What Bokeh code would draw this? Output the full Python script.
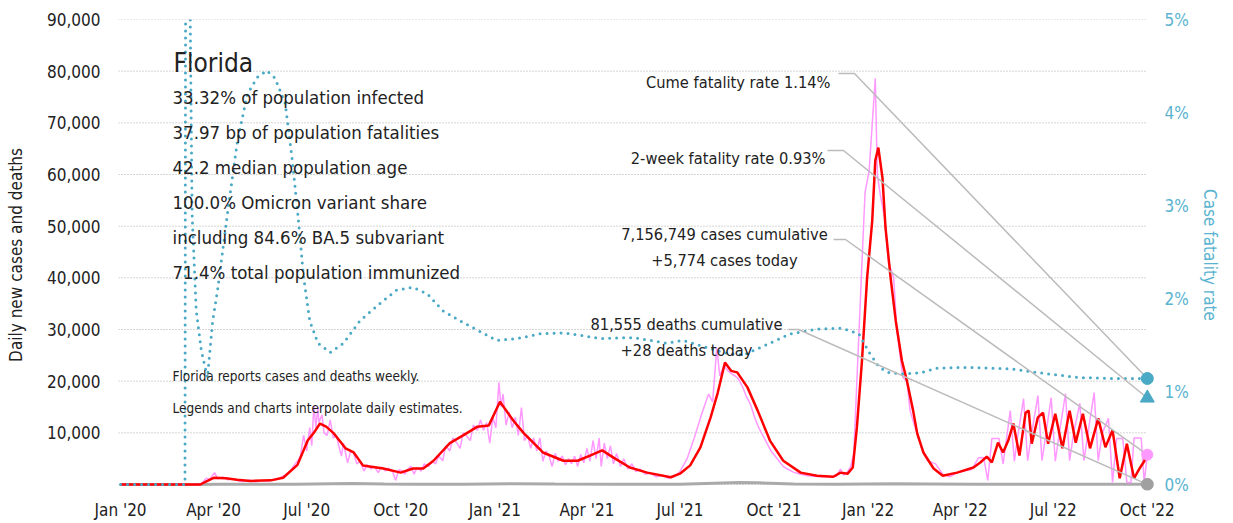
import pandas as pd
from bokeh.plotting import figure
from bokeh.models import (Range1d, LinearAxis, FixedTicker, DatetimeTickFormatter,
                          NumeralTickFormatter, PrintfTickFormatter, Label)
from bokeh.embed import file_html
from bokeh.resources import INLINE

# ---------------- data ----------------
state_name = "Florida"
stats_lines = [
    "33.32% of population infected",
    "37.97 bp of population fatalities",
    "42.2 median population age",
    "100.0% Omicron variant share",
    "including 84.6% BA.5 subvariant",
    "71.4% total population immunized",
]
notes = ["Florida reports cases and deaths weekly.",
         "Legends and charts interpolate daily estimates."]

cume_cfr = 1.14
two_week_cfr = 0.93
cases_cum = 7156749
cases_today = 5774
deaths_cum = 81555
deaths_today = 28

x_tick_dates = ["2020-01-01", "2020-04-01", "2020-07-01", "2020-10-01",
                "2021-01-01", "2021-04-01", "2021-07-01", "2021-10-01",
                "2022-01-01", "2022-04-01", "2022-07-01", "2022-10-01"]
y_ticks = [10000, 20000, 30000, 40000, 50000, 60000, 70000, 80000, 90000]
cfr_ticks = [0, 1, 2, 3, 4, 5]

# 7-day average of new cases
avg_dates = ["2020-01-01", "2020-03-19", "2020-03-25", "2020-04-01", "2020-04-13", "2020-04-24",
             "2020-05-07", "2020-05-27", "2020-06-08", "2020-06-22", "2020-07-02", "2020-07-08",
             "2020-07-14", "2020-07-20", "2020-07-27", "2020-08-08", "2020-08-16", "2020-08-25",
             "2020-09-14", "2020-10-01", "2020-10-13", "2020-10-23", "2020-11-02", "2020-11-18",
             "2020-12-01", "2020-12-15", "2020-12-26", "2021-01-06", "2021-01-19", "2021-01-29",
             "2021-02-08", "2021-02-17", "2021-03-09", "2021-03-23", "2021-04-04", "2021-04-16",
             "2021-04-27", "2021-05-13", "2021-05-30", "2021-06-22", "2021-07-01", "2021-07-11",
             "2021-07-21", "2021-07-31", "2021-08-07", "2021-08-14", "2021-08-20", "2021-08-26",
             "2021-09-05", "2021-09-15", "2021-09-27", "2021-10-10", "2021-10-27", "2021-11-12",
             "2021-11-28", "2021-12-05", "2021-12-12", "2021-12-17", "2021-12-21", "2021-12-26",
             "2021-12-31", "2022-01-05", "2022-01-08", "2022-01-11", "2022-01-15", "2022-01-18",
             "2022-01-23", "2022-01-28", "2022-02-03", "2022-02-08", "2022-02-14", "2022-02-18",
             "2022-02-24", "2022-03-06", "2022-03-15", "2022-03-29", "2022-04-14", "2022-04-21",
             "2022-04-27", "2022-05-02", "2022-05-08", "2022-05-13", "2022-05-18", "2022-05-23",
             "2022-05-29", "2022-06-04", "2022-06-07", "2022-06-10", "2022-06-16", "2022-06-21",
             "2022-06-26", "2022-07-03", "2022-07-10", "2022-07-17", "2022-07-23", "2022-07-30",
             "2022-08-06", "2022-08-14", "2022-08-21", "2022-08-28", "2022-09-04", "2022-09-11",
             "2022-09-18", "2022-09-24", "2022-09-28", "2022-10-01"]
avg_values = [0, 0, 600, 1300, 1200, 900,
              700, 800, 1300, 3800, 8500, 10000,
              11800, 11200, 10000, 7000, 6200, 3700,
              3100, 2300, 3100, 3100, 4600, 8000,
              9500, 11200, 11400, 16000, 12400, 10000,
              8000, 6200, 4600, 4600, 5600, 6600,
              5200, 3300, 2300, 1400, 2100, 3700,
              7200, 13000, 17800, 23600, 22000, 21700,
              18800, 14300, 8500, 4600, 2300, 1700,
              1500, 2300, 2100, 3300, 11000, 24000,
              40000, 51000, 62700, 65200, 59400, 49700,
              40000, 31700, 24000, 20000, 14300, 9900,
              6200, 3100, 1700, 2300, 3300, 4300,
              5400, 4300, 8100, 6200, 8500, 11800,
              5600, 13900, 14300, 7900, 13000, 13900,
              7900, 13700, 7000, 14300, 8100, 13700,
              7000, 12800, 7200, 10500, 1200, 7900,
              1200, 3300, 4500, 6000]

# daily (interpolated weekly) new cases
daily_dates = ["2020-01-01", "2020-03-19", "2020-03-25", "2020-03-28", "2020-04-02", "2020-04-05",
               "2020-04-10", "2020-04-15", "2020-04-20", "2020-04-25", "2020-05-01", "2020-05-06",
               "2020-05-12", "2020-05-18", "2020-05-24", "2020-05-30", "2020-06-05", "2020-06-10",
               "2020-06-15", "2020-06-19", "2020-06-22", "2020-06-25", "2020-06-28", "2020-07-01",
               "2020-07-04", "2020-07-06", "2020-07-08", "2020-07-10", "2020-07-12", "2020-07-13",
               "2020-07-16", "2020-07-18", "2020-07-21", "2020-07-24", "2020-07-27", "2020-07-30",
               "2020-08-02", "2020-08-04", "2020-08-06", "2020-08-10", "2020-08-13", "2020-08-16",
               "2020-08-19", "2020-08-22", "2020-08-26", "2020-08-29", "2020-09-02", "2020-09-05",
               "2020-09-09", "2020-09-12", "2020-09-16", "2020-09-19", "2020-09-23", "2020-09-26",
               "2020-09-29", "2020-10-02", "2020-10-05", "2020-10-08", "2020-10-11", "2020-10-14",
               "2020-10-17", "2020-10-21", "2020-10-24", "2020-10-28", "2020-11-01", "2020-11-04",
               "2020-11-07", "2020-11-11", "2020-11-14", "2020-11-18", "2020-11-21", "2020-11-25",
               "2020-11-28", "2020-12-01", "2020-12-04", "2020-12-08", "2020-12-11", "2020-12-15",
               "2020-12-18", "2020-12-21", "2020-12-24", "2020-12-27", "2020-12-30", "2021-01-02",
               "2021-01-05", "2021-01-07", "2021-01-09", "2021-01-12", "2021-01-15", "2021-01-18",
               "2021-01-21", "2021-01-24", "2021-01-27", "2021-01-30", "2021-02-02", "2021-02-05",
               "2021-02-08", "2021-02-11", "2021-02-14", "2021-02-17", "2021-02-20", "2021-02-23",
               "2021-02-26", "2021-03-01", "2021-03-04", "2021-03-08", "2021-03-11", "2021-03-14",
               "2021-03-17", "2021-03-20", "2021-03-23", "2021-03-26", "2021-03-29", "2021-04-01",
               "2021-04-04", "2021-04-07", "2021-04-10", "2021-04-13", "2021-04-15", "2021-04-18",
               "2021-04-21", "2021-04-24", "2021-04-27", "2021-04-30", "2021-05-04", "2021-05-07",
               "2021-05-11", "2021-05-15", "2021-05-19", "2021-05-23", "2021-05-28", "2021-06-02",
               "2021-06-08", "2021-06-14", "2021-06-20", "2021-06-26", "2021-07-01", "2021-07-08",
               "2021-07-15", "2021-07-22", "2021-07-29", "2021-08-02", "2021-08-06", "2021-08-09",
               "2021-08-13", "2021-08-17", "2021-08-20", "2021-08-24", "2021-08-27", "2021-08-31",
               "2021-09-04", "2021-09-08", "2021-09-12", "2021-09-16", "2021-09-20", "2021-09-24",
               "2021-09-28", "2021-10-02", "2021-10-06", "2021-10-10", "2021-10-14", "2021-10-20",
               "2021-10-27", "2021-11-03", "2021-11-10", "2021-11-17", "2021-11-24", "2021-12-01",
               "2021-12-05", "2021-12-08", "2021-12-12", "2021-12-15", "2021-12-18", "2021-12-21",
               "2021-12-26", "2021-12-29", "2022-01-02", "2022-01-08", "2022-01-10", "2022-01-13",
               "2022-01-17", "2022-01-21", "2022-01-26", "2022-01-29", "2022-02-04", "2022-02-08",
               "2022-02-11", "2022-02-16", "2022-02-21", "2022-02-28", "2022-03-08", "2022-03-15",
               "2022-03-22", "2022-03-29", "2022-04-05", "2022-04-12", "2022-04-15", "2022-04-19",
               "2022-04-24", "2022-04-28", "2022-05-02", "2022-05-09", "2022-05-13", "2022-05-20",
               "2022-05-24", "2022-05-27", "2022-06-02", "2022-06-06", "2022-06-10", "2022-06-16",
               "2022-06-20", "2022-06-24", "2022-06-29", "2022-07-03", "2022-07-07", "2022-07-13",
               "2022-07-17", "2022-07-21", "2022-07-27", "2022-07-31", "2022-08-04", "2022-08-10",
               "2022-08-14", "2022-08-18", "2022-08-24", "2022-08-28", "2022-09-01", "2022-09-07",
               "2022-09-11", "2022-09-15", "2022-09-18", "2022-09-25", "2022-09-28", "2022-10-01"]
daily_values = [0, 0, 1200, 1000, 2300, 1100,
                1400, 900, 1100, 700, 600, 900,
                500, 800, 700, 900, 1300, 1800,
                2600, 3800, 4500, 5600, 9500, 6500,
                11000, 7500, 15300, 11000, 15000, 12000,
                13500, 10000, 9500, 12500, 9000, 9500,
                7000, 5500, 8000, 4200, 6500, 6000,
                4000, 4500, 2600, 3800, 3000, 3500,
                2300, 3400, 2600, 3200, 2500, 800,
                2800, 2700, 2000, 3000, 3500, 2000,
                3300, 2600, 4000, 3500, 4500, 4000,
                5500, 4600, 7500, 6500, 9000, 8000,
                7000, 10000, 9500, 8500, 11500, 10500,
                12500, 10500, 12000, 8000, 13000, 11000,
                19800, 15000, 17500, 11500, 14000, 11000,
                13000, 9500, 14900, 8500, 9500, 7000,
                9000, 6500, 9000, 4500, 6500, 5500,
                3500, 6000, 4500, 5500, 3800, 5000,
                4000, 5500, 3500, 5800, 4200, 7000,
                4500, 8500, 5000, 9000, 3500, 8000,
                5000, 7500, 4000, 6000, 3500, 5000,
                3000, 4000, 2500, 3000, 2000, 2200,
                1500, 1800, 1200, 1600, 2500, 5000,
                9000, 13500, 17500, 16000, 26500, 21000,
                23000, 22000, 21500, 21000, 20500, 19000,
                17000, 15500, 13000, 11000, 9500, 8000,
                6500, 5500, 4500, 3500, 3000, 2400,
                2000, 1700, 1600, 1500, 1500, 1600,
                3000, 1800, 2500, 3500, 6000, 20000,
                43000, 56500, 60800, 78600, 60000, 56000,
                51700, 43000, 40000, 30000, 20700, 20000,
                14300, 11000, 7900, 4600, 4000, 2000,
                1500, 2300, 2600, 2900, 3800, 5200,
                5200, 800, 8900, 8900, 4000, 14300,
                4500, 9000, 16600, 4600, 10000, 17200,
                4600, 10000, 16800, 4500, 10000, 17600,
                4600, 10000, 15700, 4600, 10000, 17800,
                4600, 10000, 12800, 400, 8900, 8900,
                400, 400, 9000, 9000, 400, 5774]

# daily deaths
death_dates = ["2020-01-01", "2020-03-10", "2020-04-10", "2020-05-15", "2020-06-20", "2020-07-25",
               "2020-08-15", "2020-09-15", "2020-10-15", "2020-12-01", "2021-01-20", "2021-03-01",
               "2021-05-01", "2021-07-01", "2021-08-28", "2021-09-15", "2021-10-20", "2021-12-01",
               "2022-01-28", "2022-03-01", "2022-04-15", "2022-07-15", "2022-10-01"]
death_values = [0, 0, 60, 40, 40, 150,
                180, 110, 60, 70, 170, 100,
                60, 40, 370, 320, 100, 30,
                160, 110, 30, 40, 28]

# case fatality rate (%)
cfr_dates = ["2020-01-01", "2020-03-04", "2020-03-05", "2020-03-09", "2020-03-10", "2020-03-11",
             "2020-03-15", "2020-03-20", "2020-03-26", "2020-03-31", "2020-04-05", "2020-04-15",
             "2020-04-24", "2020-05-04", "2020-05-14", "2020-05-23", "2020-05-31", "2020-06-10",
             "2020-06-17", "2020-06-22", "2020-06-28", "2020-07-04", "2020-07-12", "2020-07-24",
             "2020-08-06", "2020-08-22", "2020-09-11", "2020-09-27", "2020-10-13", "2020-10-27",
             "2020-11-11", "2020-11-28", "2020-12-15", "2021-01-03", "2021-01-23", "2021-02-14",
             "2021-03-09", "2021-03-28", "2021-04-14", "2021-05-16", "2021-06-18", "2021-07-04",
             "2021-08-12", "2021-09-01", "2021-09-21", "2021-10-17", "2021-11-12", "2021-12-07",
             "2021-12-23", "2022-01-02", "2022-01-12", "2022-01-22", "2022-02-04", "2022-02-21",
             "2022-03-09", "2022-04-08", "2022-05-07", "2022-05-23", "2022-06-25", "2022-07-27",
             "2022-08-28", "2022-10-01"]
cfr_values = [0, 0, 9.0, 5.2, 4.0, 2.9,
              1.87, 1.44, 1.15, 1.75, 2.1, 2.95,
              3.67, 4.2, 4.38, 4.45, 4.37, 4.1,
              3.48, 2.95, 2.23, 1.76, 1.52, 1.42,
              1.52, 1.76, 1.95, 2.09, 2.12, 2.05,
              1.87, 1.76, 1.66, 1.55, 1.57, 1.62,
              1.63, 1.6, 1.57, 1.58, 1.52, 1.55,
              1.42, 1.39, 1.49, 1.62, 1.67, 1.68,
              1.62, 1.42, 1.26, 1.2, 1.19, 1.2,
              1.25, 1.26, 1.25, 1.24, 1.19, 1.15,
              1.14, 1.14]

# ---------------- styling ----------------
FONT = "'DejaVu Sans Condensed', 'DejaVu Sans', sans-serif"
INK = "#222222"
BLUE = "#4aa9c5"
BLUE_TXT = "#5ab3cf"
RED = "#ff0000"
PINK = "#ff99ff"
GREY = "#aaaaaa"
LEADER = "#bbbbbb"


def ms(d):
    return pd.Timestamp(d).value / 1e6


X_START, X_END = ms("2019-12-30"), ms("2022-10-09")
Y_MIN, Y_MAX = -1160, 90000
CFR_MAX = 5.0
CFR_SCALE = Y_MAX / CFR_MAX
W, H = 1233, 523
FRAME_L, FRAME_T, FRAME_W, FRAME_H = 118, 19, 1037, 471  # canvas pixels


def px_x(px):
    return X_START + (px - FRAME_L) / FRAME_W * (X_END - X_START)


def px_y(py):
    return Y_MAX - (py - FRAME_T) / FRAME_H * (Y_MAX - Y_MIN)


p = figure(width=W, height=H, x_axis_type="datetime",
           x_range=Range1d(X_START, X_END), y_range=Range1d(Y_MIN, Y_MAX),
           output_backend="svg", toolbar_location=None,
           min_border_left=FRAME_L, min_border_right=W - FRAME_L - FRAME_W,
           min_border_top=FRAME_T, min_border_bottom=H - FRAME_T - FRAME_H)
p.outline_line_color = None
p.background_fill_color = "white"
p.border_fill_color = "white"

# x axis
p.xaxis.ticker = FixedTicker(ticks=[ms(d) for d in x_tick_dates])
fmt = "%b '%y"
p.xaxis.formatter = DatetimeTickFormatter(days=fmt, months=fmt, years=fmt, hours=fmt,
                                          minutes=fmt, seconds=fmt, milliseconds=fmt)
p.xaxis.axis_line_color = None
p.xaxis.major_tick_line_color = None
p.xaxis.minor_tick_line_color = None
p.xaxis.major_tick_out = 0
p.xaxis.major_tick_in = 0
p.xaxis.minor_tick_out = 0
p.xaxis.major_label_standoff = 9
p.xaxis.major_label_text_font = FONT
p.xaxis.major_label_text_font_size = "17px"
p.xaxis.major_label_text_color = INK

# left axis
p.yaxis.ticker = FixedTicker(ticks=y_ticks)
p.yaxis.formatter = NumeralTickFormatter(format="0,0")
p.yaxis.axis_label = "Daily new cases and deaths"
p.yaxis.axis_label_text_font = FONT
p.yaxis.axis_label_text_font_size = "17px"
p.yaxis.axis_label_text_font_style = "normal"
p.yaxis.axis_label_text_color = INK
p.yaxis.axis_label_standoff = 18
p.yaxis.axis_line_color = None
p.yaxis.major_tick_line_color = None
p.yaxis.minor_tick_line_color = None
p.yaxis.major_tick_out = 0
p.yaxis.major_tick_in = 0
p.yaxis.minor_tick_out = 0
p.yaxis.major_label_standoff = 18
p.yaxis.major_label_text_font = FONT
p.yaxis.major_label_text_font_size = "17px"
p.yaxis.major_label_text_color = INK

# grid (horizontal dotted lines spanning the data period)
p.xgrid.grid_line_color = None
p.ygrid.grid_line_color = None
grid_end = ms(cfr_dates[-1])
p.multi_line(xs=[[X_START, grid_end] for _ in ([0] + y_ticks)],
             ys=[[t, t] for t in ([0] + y_ticks)],
             line_color="#aaaaaa", line_width=1, line_dash="1 2")

# right axis
p.extra_y_ranges = {"cfr": Range1d(Y_MIN / CFR_SCALE, CFR_MAX)}
rax = LinearAxis(y_range_name="cfr", ticker=FixedTicker(ticks=cfr_ticks),
                 formatter=PrintfTickFormatter(format="%d%%"),
                 axis_label="Case fatality rate")
rax.axis_line_color = None
rax.major_tick_line_color = None
rax.minor_tick_line_color = None
rax.major_tick_out = 0
rax.major_tick_in = 0
rax.minor_tick_out = 0
rax.major_label_standoff = 9
rax.major_label_text_font = FONT
rax.major_label_text_font_size = "17px"
rax.major_label_text_color = BLUE_TXT
rax.axis_label_text_font = FONT
rax.axis_label_text_font_size = "17px"
rax.axis_label_text_font_style = "normal"
rax.axis_label_text_color = BLUE_TXT
rax.axis_label_standoff = 8
p.add_layout(rax, "right")

# series
p.line(pd.to_datetime(death_dates), death_values, color=GREY, line_width=3)
p.line(pd.to_datetime(daily_dates), daily_values, color=PINK, line_width=1.5)
p.line(pd.to_datetime(avg_dates), avg_values, color=RED, line_width=2.5)
p.line(pd.to_datetime(cfr_dates), cfr_values, y_range_name="cfr", color=BLUE,
       line_width=3, line_dash="0 7", line_cap="round")

# leader lines to end markers
end_x = ms(cfr_dates[-1])
leaders = [
    ((838, 73), (854, 73), cume_cfr * CFR_SCALE),
    ((827, 150), (843, 150), two_week_cfr * CFR_SCALE),
    ((833, 239), (845, 239), cases_today),
    ((788, 329), (798, 329), deaths_today),
]
for a, b, yend in leaders:
    p.line([px_x(a[0]), px_x(b[0]), end_x], [px_y(a[1]), px_y(b[1]), yend],
           color=LEADER, line_width=1.5)

# end markers
p.scatter([end_x], [cume_cfr], y_range_name="cfr", marker="circle", size=12,
          color=BLUE)
p.scatter([end_x], [two_week_cfr], y_range_name="cfr", marker="triangle", size=14,
          color=BLUE)
p.scatter([end_x], [cases_today], marker="circle", size=11, color=PINK)
p.scatter([end_x], [deaths_today], marker="circle", size=12, color="#a0a0a0")


def add_label(text, px, py, size, align="left"):
    p.add_layout(Label(x=px_x(px), y=px_y(py), text=text, text_font=FONT,
                       text_font_size=size, text_color=INK, text_align=align,
                       text_baseline="alphabetic"))


add_label(state_name, 173, 62, "26px")
for i, line in enumerate(stats_lines):
    add_label(line, 172, 97 + i * 35, "18.5px")
add_label(notes[0], 172, 375, "13.5px")
add_label(notes[1], 172, 407, "13.5px")

add_label(f"Cume fatality rate {cume_cfr:.2f}%", 830, 82, "16.3px", "right")
add_label(f"2-week fatality rate {two_week_cfr:.2f}%", 825, 158, "16.3px", "right")
add_label(f"{cases_cum:,} cases cumulative", 724, 234, "16.3px", "center")
add_label(f"+{cases_today:,} cases today", 724, 260, "16.3px", "center")
add_label(f"{deaths_cum:,} deaths cumulative", 686, 324, "16.3px", "center")
add_label(f"+{deaths_today} deaths today", 686, 350, "16.3px", "center")

open("out.html", "w").write(file_html(p, INLINE))
